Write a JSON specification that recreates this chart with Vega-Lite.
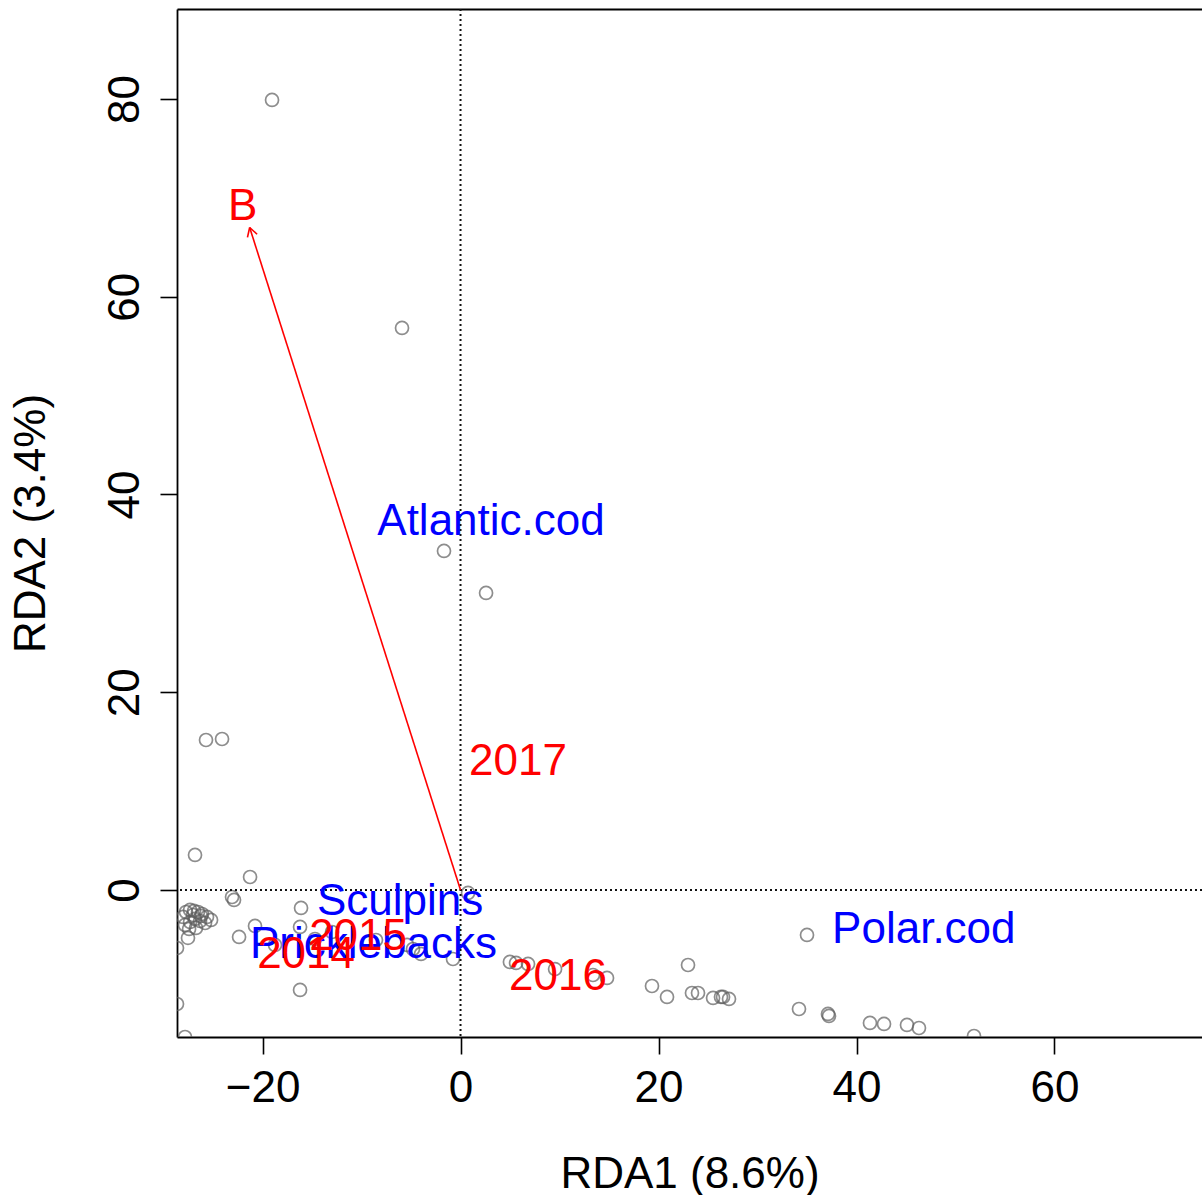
{
  "$schema": "https://vega.github.io/schema/vega-lite/v6.json",
  "autosize": "none",
  "width": 1025,
  "height": 1028,
  "padding": {"left": 177, "top": 9, "right": 0, "bottom": 158},
  "background": "white",
  "config": {
    "view": {"stroke": null},
    "font": "Liberation Sans",
    "axis": {
      "labelFont": "Liberation Sans",
      "titleFont": "Liberation Sans",
      "labelFontSize": 44,
      "titleFontSize": 44,
      "titleFontWeight": "normal",
      "labelColor": "black",
      "titleColor": "black",
      "domainColor": "black",
      "domainWidth": 1.8,
      "tickColor": "black",
      "tickWidth": 1.6,
      "tickSize": 17,
      "grid": false,
      "labelFlush": false,
      "labelOverlap": false
    }
  },
  "datasets": {
    "sites": [
      {"x": -19.04, "y": 79.9}, {"x": -5.91, "y": 56.84}, {"x": -1.67, "y": 34.29}, {"x": 2.58, "y": 30.04},
      {"x": -25.71, "y": 15.17}, {"x": -24.09, "y": 15.27}, {"x": -26.82, "y": 3.54}, {"x": -21.26, "y": 1.31},
      {"x": -23.08, "y": -0.71}, {"x": -22.88, "y": -1.01},
      {"x": -28.03, "y": -2.73}, {"x": -27.73, "y": -2.23}, {"x": -27.32, "y": -2.02}, {"x": -26.92, "y": -2.12},
      {"x": -26.52, "y": -2.23}, {"x": -26.11, "y": -2.43}, {"x": -25.61, "y": -2.73}, {"x": -25.2, "y": -3.03},
      {"x": -27.83, "y": -3.54}, {"x": -27.32, "y": -3.24}, {"x": -26.82, "y": -2.93}, {"x": -26.31, "y": -3.14},
      {"x": -25.81, "y": -3.34}, {"x": -27.42, "y": -3.94}, {"x": -26.72, "y": -3.84}, {"x": -26.21, "y": -2.63},
      {"x": -27.02, "y": -2.53},
      {"x": -27.53, "y": -4.85}, {"x": -28.64, "y": -5.87}, {"x": -22.37, "y": -4.75}, {"x": -20.76, "y": -3.64},
      {"x": -16.11, "y": -1.82}, {"x": -16.21, "y": -3.74}, {"x": -14.7, "y": -4.96}, {"x": -18.74, "y": -5.56},
      {"x": -12.98, "y": -4.25}, {"x": -8.54, "y": -5.06}, {"x": -5.4, "y": -5.56}, {"x": -4.8, "y": -5.97},
      {"x": -3.99, "y": -6.47}, {"x": -0.76, "y": -6.98}, {"x": -16.21, "y": -10.11}, {"x": -28.64, "y": -11.53},
      {"x": -27.83, "y": -14.87}, {"x": 0.76, "y": -0.3},
      {"x": 4.99, "y": -7.28}, {"x": 5.61, "y": -7.38}, {"x": 6.82, "y": -7.48}, {"x": 9.55, "y": -8.0},
      {"x": 13.38, "y": -8.6}, {"x": 14.8, "y": -8.9}, {"x": 19.34, "y": -9.71}, {"x": 20.86, "y": -10.82},
      {"x": 22.98, "y": -7.59}, {"x": 23.38, "y": -10.42}, {"x": 23.99, "y": -10.42}, {"x": 25.51, "y": -10.92},
      {"x": 26.31, "y": -10.82}, {"x": 26.52, "y": -10.82}, {"x": 27.12, "y": -11.02},
      {"x": 35.0, "y": -4.55}, {"x": 34.19, "y": -12.04}, {"x": 37.12, "y": -12.54}, {"x": 37.22, "y": -12.74},
      {"x": 41.36, "y": -13.45}, {"x": 42.78, "y": -13.55}, {"x": 45.1, "y": -13.65}, {"x": 46.31, "y": -13.96},
      {"x": 51.87, "y": -14.77}
    ],
    "species": [
      {"label": "Atlantic.cod", "x": 3.08, "y": 37.2},
      {"label": "Sculpins", "x": -6.1, "y": -1.2},
      {"label": "Pricklebacks", "x": -8.8, "y": -5.6},
      {"label": "Polar.cod", "x": 46.8, "y": -4.0}
    ],
    "constraints": [
      {"label": "B", "x": -22.0, "y": 69.1},
      {"label": "2017", "x": 5.8, "y": 12.9},
      {"label": "2016", "x": 9.85, "y": -8.8},
      {"label": "2015", "x": -10.35, "y": -4.75},
      {"label": "2014", "x": -15.6, "y": -6.6}
    ],
    "arrow": [
      {"x": 0, "y": 0, "x2": -21.3, "y2": 67.0},
      {"x": -21.3, "y": 67.0, "x2": -21.52, "y2": 66.01},
      {"x": -21.3, "y": 67.0, "x2": -20.55, "y2": 66.32}
    ]
  },
  "resolve": {"axis": {"x": "independent"}},
  "layer": [
    {
      "data": {"name": "sites"},
      "mark": {"type": "point", "shape": "circle", "filled": false, "stroke": "#5e5e5e", "strokeWidth": 1.7, "size": 169, "clip": true},
      "encoding": {
        "x": {"field": "x", "type": "quantitative",
          "scale": {"domain": [-28.64, 74.9], "nice": false, "zero": false},
          "axis": {"orient": "bottom", "values": [-20, 0, 20, 40, 60], "title": "RDA1 (8.6%)", "labelPadding": 12, "titlePadding": 42}},
        "y": {"field": "y", "type": "quantitative",
          "scale": {"domain": [-14.87, 89.1], "nice": false, "zero": false},
          "axis": {"orient": "left", "values": [0, 20, 40, 60, 80], "title": "RDA2 (3.4%)", "labelAngle": -90, "labelAlign": "center", "labelBaseline": "alphabetic", "labelPadding": 22, "titlePadding": 50}}
      }
    },
    {
      "data": {"values": [{"v": 0}]},
      "mark": {"type": "rule", "stroke": "#111111", "strokeWidth": 2, "strokeDash": [2, 3]},
      "encoding": {
        "x": {"field": "v", "type": "quantitative", "axis": {"orient": "top", "labels": false, "ticks": false, "title": null, "domain": true}}
      }
    },
    {
      "data": {"values": [{"v": 0}]},
      "mark": {"type": "rule", "stroke": "#111111", "strokeWidth": 2, "strokeDash": [2, 3]},
      "encoding": {
        "y": {"field": "v", "type": "quantitative"}
      }
    },
    {
      "data": {"name": "arrow"},
      "mark": {"type": "rule", "stroke": "#ff0000", "strokeWidth": 1.6},
      "encoding": {
        "x": {"field": "x", "type": "quantitative", "axis": null},
        "y": {"field": "y", "type": "quantitative"},
        "x2": {"field": "x2"},
        "y2": {"field": "y2"}
      }
    },
    {
      "data": {"name": "species"},
      "mark": {"type": "text", "color": "#0000ff", "fontSize": 44, "font": "Liberation Sans", "align": "center", "baseline": "middle"},
      "encoding": {
        "x": {"field": "x", "type": "quantitative", "axis": null},
        "y": {"field": "y", "type": "quantitative"},
        "text": {"field": "label"}
      }
    },
    {
      "data": {"name": "constraints"},
      "mark": {"type": "text", "color": "#ff0000", "fontSize": 44, "font": "Liberation Sans", "align": "center", "baseline": "middle"},
      "encoding": {
        "x": {"field": "x", "type": "quantitative", "axis": null},
        "y": {"field": "y", "type": "quantitative"},
        "text": {"field": "label"}
      }
    }
  ]
}
